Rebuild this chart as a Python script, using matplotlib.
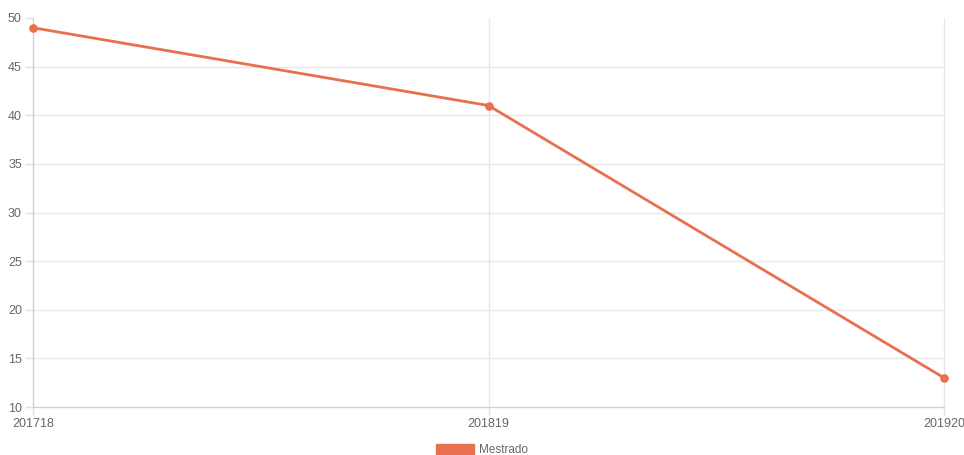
import matplotlib
matplotlib.use("Agg")
import matplotlib.pyplot as plt
from matplotlib.patches import Patch

categories = ["201718", "201819", "201920"]
values = [49, 41, 13]
series_name = "Mestrado"
color = "#E8704E"
yticks = [10, 15, 20, 25, 30, 35, 40, 45, 50]

plt.rcParams['font.family'] = ['Liberation Sans', 'DejaVu Sans']
fig = plt.figure(figsize=(9.64, 4.55), dpi=100)
ax = fig.add_axes([33/964, 1-407/455, (944-33)/964, (407-18)/455])

x = list(range(len(categories)))
ax.plot(x, values, color=color, linewidth=2.0, marker='o', markersize=5.2, zorder=3, clip_on=False)

ax.set_xlim(0, len(categories)-1)
ax.set_ylim(10, 50)
ax.set_yticks(yticks)
ax.set_xticks(x)
ax.set_xticklabels(categories)

for s in ax.spines.values():
    s.set_visible(False)
ax.spines['left'].set_visible(True)
ax.spines['bottom'].set_visible(True)
ax.spines['left'].set_color('#d0d0d0')
ax.spines['bottom'].set_color('#d0d0d0')
ax.grid(True, color='#e8e8e8', linewidth=1.0)
for gl in ax.get_xgridlines() + ax.get_ygridlines():
    gl.set_clip_on(False)
ax.get_ygridlines()[-1].set_visible(False)
ax.set_axisbelow(True)
ax.tick_params(axis='both', colors='#e0e0e0', labelcolor='#666666', labelsize=9, length=6, width=1)
ax.tick_params(axis='y', pad=2)
ax.tick_params(axis='x', pad=2)

fig.legend(handles=[Patch(facecolor=color, edgecolor=color, label=series_name)],
           loc='center', bbox_to_anchor=(0.5, 1-450/455), frameon=False,
           handlelength=3.2, handleheight=0.9, handletextpad=0.4,
           prop={'size': 8.5}, labelcolor='#666666')

fig.savefig("out.png", dpi=100)
